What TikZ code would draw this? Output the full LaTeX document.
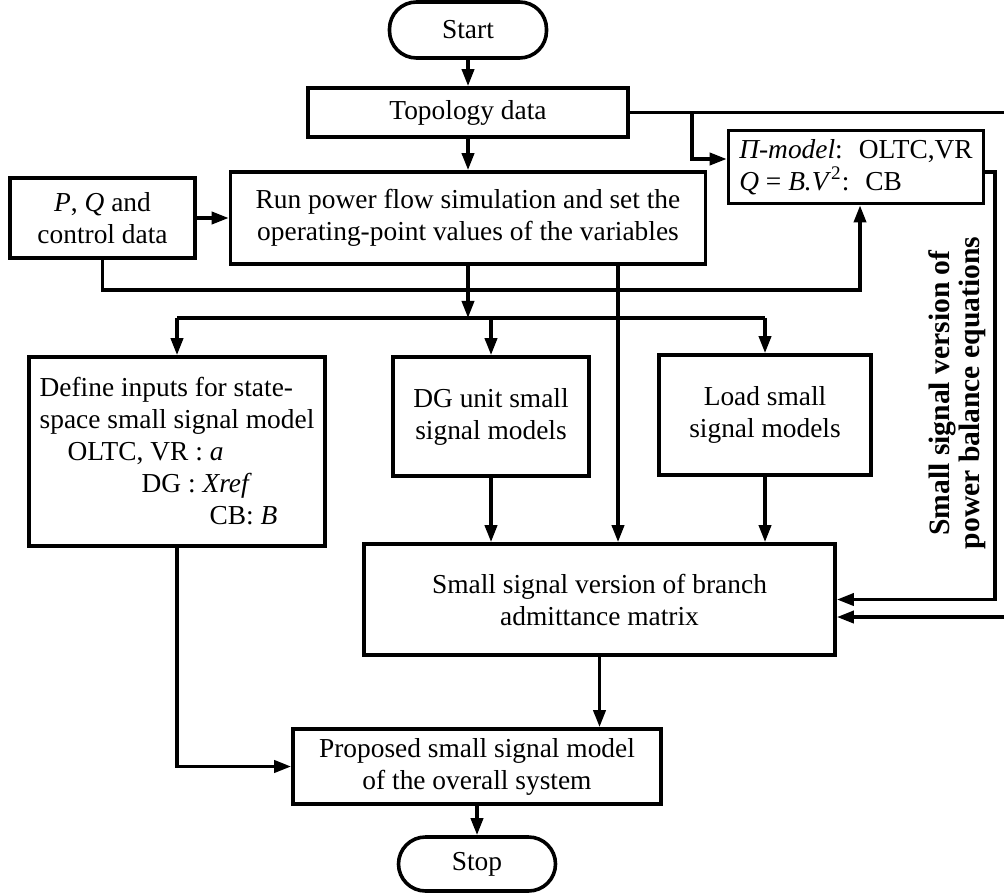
\documentclass[tikz,border=0pt]{standalone}
\usepackage{fontspec}
\setmainfont{Liberation Serif}
\usetikzlibrary{arrows.meta, calc, positioning}

\begin{document}
\begin{tikzpicture}[x=0.5pt, y=-0.5pt,
  font=\fontsize{13.7}{16}\selectfont,
  box/.style={draw, line width=1.8pt, inner sep=0pt, align=center},
  term/.style={box, rounded corners=13.5pt},
  flow/.style={line width=1.8pt, -{Triangle[length=8.5pt, width=6pt]}}]
\useasboundingbox (0,0) rectangle (1004,892);

% main column
\node[term, minimum width=78.5pt, minimum height=28pt] (start) at (468,30) {Start};
\node[box, minimum width=160pt, minimum height=24.5pt] (topo) at (468,112.5) {Topology data};
\node[box, minimum width=237.5pt, minimum height=46pt] (run) at (468,218)
  {Run power flow simulation and set the\\operating-point values of the variables};
\node[box, minimum width=92.5pt, minimum height=40pt] (pq) at (102.5,218)
  {\textit{P}, \textit{Q} and\\control data};
\node[box, align=left, minimum width=127.5pt, minimum height=36.5pt] (pimodel) at (856,167)
  {\textit{Π-model}:~ OLTC,VR\\\textit{Q} = \textit{B.V}\textsuperscript{2}:~ CB};

% models
\node[box, align=left, minimum width=148pt, minimum height=94.5pt] (inputs) at (177,451.5)
  {Define inputs for state-\\space small signal model\\
   \hspace*{14pt}OLTC, VR : \textit{a}\\
   \hspace*{51pt}DG : \textit{Xref}\\
   \hspace*{85pt}CB: \textit{B}};
\node[box, minimum width=98pt, minimum height=59.5pt] (dgmodel) at (491,416.5)
  {DG unit small\\signal models};
\node[box, minimum width=106pt, minimum height=60pt] (loadmodel) at (765,415)
  {Load small\\signal models};
\node[box, minimum width=235.5pt, minimum height=55.5pt] (branch) at (599.5,599.5)
  {Small signal version of branch\\admittance matrix};
\node[box, minimum width=184pt, minimum height=37.5pt] (proposed) at (477,766.5)
  {Proposed small signal model\\of the overall system};
\node[term, minimum width=78.5pt, minimum height=27pt] (stop) at (477,864) {Stop};

\node[rotate=90, align=center, font=\fontsize{14.8}{15}\selectfont\bfseries] (pbal) at (957,393)
  {Small signal version of\\power balance equations};

% junctions
\coordinate (tap) at (692,112.5);
\coordinate (fbin) at (995,599.5);
\coordinate (fbout) at (1012,617);
\coordinate (pqbus) at (860,290);
\coordinate (split) at (468,318);

\path[flow] (start) edge (topo)
            (topo) edge (run)
            (pq) edge (run)
            (proposed) edge (stop);

\draw[flow] (run.south) -- (run.south |- split);
\draw[line width=1.8pt] (inputs.north |- split) -- (loadmodel.north |- split);
\foreach \n in {inputs, dgmodel, loadmodel}
  \draw[flow] (\n.north |- split) -- (\n.north);

\draw[flow] ([xshift=75pt]run.south) -- ([xshift=75pt]run.south |- branch.north);
\draw[flow] (dgmodel.south) -- (dgmodel.south |- branch.north);
\draw[flow] (loadmodel.south) -- (loadmodel.south |- branch.north);

\draw[flow] (pq.south) |- (pqbus) -- (pqbus |- pimodel.south);
\draw[flow] (tap) |- ([yshift=4pt]pimodel.west);
\draw[flow] (topo.east) -| (fbout) -- (fbout -| branch.east);
\draw[flow] ([yshift=-2.5pt]pimodel.east) -| (fbin) -- (branch.east);

\draw[flow] (inputs.south) |- (proposed.west);
\draw[flow] (branch.south) -- (branch.south |- proposed.north);
\end{tikzpicture}
\end{document}
